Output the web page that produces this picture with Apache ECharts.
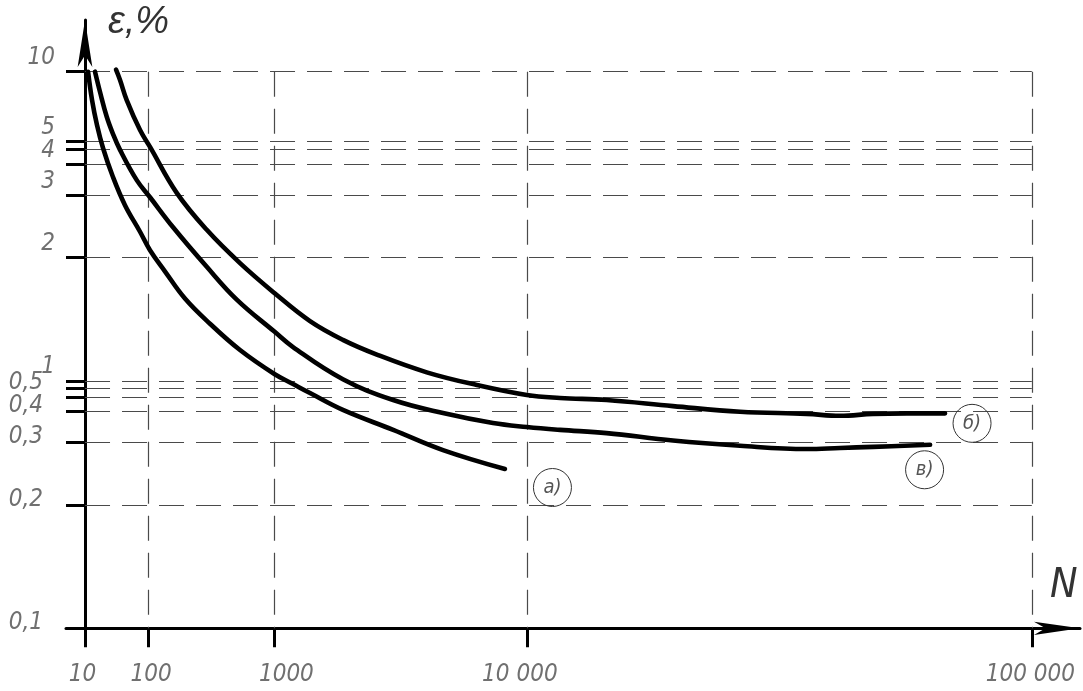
<!DOCTYPE html>
<html><head><meta charset="utf-8">
<script src="https://cdn.jsdelivr.net/npm/echarts@6/dist/echarts.min.js"></script>
<style>html,body{margin:0;padding:0;background:#fff}#c{width:1083px;height:691px}</style>
</head><body><div id="c"></div>
<script>
// ---- tick labels ----
const xTickValues = [10, 100, 1000, 10000, 100000];
const xTickLabels = ['10', '100', '1000', '10 000', '100 000'];
const yTickValues = [0.1, 0.2, 0.3, 0.4, 0.5, 1, 2, 3, 4, 5, 10];
const yTickLabels = ['0,1', '0,2', '0,3', '0,4', '0,5', '1', '2', '3', '4', '5', '10'];
// hand-drawn ε scale of the original figure (levels in "drawing decades")
const yTickLevels = [0, 0.4420, 0.6669, 0.7783, 0.8624, 0.8886, 1.3317, 1.5544, 1.6673, 1.7485, 2.0];
// unlabeled extra grid lines of the drawing
const yExtraGrid = [0.46, 4.65];

// ---- curves: N (cycles) and ε (%) ----
const curveA_N   = [11.7, 14.2, 17.8, 23.0, 33.8, 51.0, 80.2, 105, 152, 234, 376, 615, 1000, 1267, 1550, 2220, 3600, 5470, 8630];
const curveA_eps = [10, 7.55, 5.90, 4.70, 3.56, 2.82, 2.37, 2.10, 1.85, 1.59, 1.38, 1.19, 1.04, 0.752, 0.478, 0.407, 0.338, 0.286, 0.253];

const curveV_N   = [16.3, 20.3, 26.7, 33.8, 43.3, 73.0, 105, 182, 355, 585, 1000, 1267, 2220, 3600, 5470, 7940, 10000, 12350, 16280, 23260, 32220, 43270, 49680, 56650, 70280];
const curveV_eps = [10, 8.18, 6.40, 5.40, 4.61, 3.46, 2.97, 2.44, 1.90, 1.58, 1.32, 1.21, 1.01, 0.447, 0.395, 0.360, 0.347, 0.338, 0.328, 0.306, 0.294, 0.288, 0.290, 0.292, 0.296];

const curveB_N   = [37.7, 43.3, 53.9, 80.2, 105, 197, 355, 615, 1000, 1550, 2220, 3100, 4800, 7070, 10000, 12350, 16280, 23260, 32220, 43270, 49680, 56650, 64460, 74200];
const curveB_eps = [10.2, 9.21, 7.55, 5.61, 4.75, 3.08, 2.40, 1.94, 1.64, 1.40, 1.26, 1.16, 1.05, 0.684, 0.469, 0.456, 0.447, 0.422, 0.400, 0.392, 0.385, 0.392, 0.394, 0.394];

const curveLabels = ['а)', 'б)', 'в)'];

// ---- scales of the drawing ----
const LOG2 = Math.log10(2);
function xPos(N) { return Math.pow(N, LOG2); } // each decade drawn twice as long as the previous one
function yPos(e) {
  const le = Math.log10(e);
  let i = 0;
  while (i < yTickValues.length - 2 && e > yTickValues[i + 1]) i++;
  const l0 = Math.log10(yTickValues[i]), l1 = Math.log10(yTickValues[i + 1]);
  const t = (le - l0) / (l1 - l0);
  return yTickLevels[i] + t * (yTickLevels[i + 1] - yTickLevels[i]);
}
function pts(Ns, es) { return Ns.map((n, i) => [xPos(n), yPos(es[i])]); }

const FONT = "'DejaVu Sans Condensed', 'Liberation Sans Narrow', 'Liberation Sans', sans-serif";
const LBL = '#707070';
const FS = 24;

const gridLines = [];
yTickValues.slice(1).concat(yExtraGrid).forEach(e => {
  gridLines.push([{ coord: [xPos(xTickValues[0]), yPos(e)] }, { coord: [xPos(xTickValues[xTickValues.length - 1]), yPos(e)] }]);
});
xTickValues.slice(1).forEach(n => {
  gridLines.push([{ coord: [xPos(n), yPos(10)] }, { coord: [xPos(n), yPos(0.1)] }]);
});

function curveSeries(name, data, label, offset) {
  const last = data[data.length - 1];
  return {
    name, type: 'line', data, z: 10, silent: true,
    showSymbol: false, smooth: 0.4,
    lineStyle: { color: '#000', width: 4.6, cap: 'round', join: 'round' },
    markPoint: {
      silent: true, animation: false,
      symbol: 'circle', symbolSize: 38,
      itemStyle: { color: 'rgba(0,0,0,0)', borderColor: '#333', borderWidth: 1 },
      label: { show: true, position: 'inside', formatter: label, fontFamily: FONT, fontStyle: 'italic', fontSize: 20, color: '#555' },
      data: [{ coord: last, symbolOffset: offset }]
    }
  };
}

const lblStyle = { fontFamily: FONT, fontStyle: 'italic', fontSize: FS, lineHeight: FS, color: LBL };
const rs = pad => Object.assign({}, lblStyle, { padding: pad });

const option = {
  animation: false,
  backgroundColor: '#fff',
  grid: { left: 66, right: 3, top: 20, bottom: 62.7, containLabel: false, outerBoundsMode: 'none' },
  xAxis: {
    type: 'value', min: 1.3973, max: 33.527,
    axisLine: { onZero: false, lineStyle: { color: '#000', width: 3 }, symbol: ['none', 'arrow'], symbolSize: [10, 46] },
    axisTick: { show: true, length: 19, customValues: xTickValues.map(xPos), lineStyle: { color: '#000', width: 3 } },
    splitLine: { show: false },
    axisLabel: {
      show: true, margin: 34, customValues: xTickValues.map(xPos),
      fontFamily: FONT, fontStyle: 'italic', fontSize: FS, lineHeight: FS, color: LBL,
      formatter: v => {
        const i = xTickValues.findIndex(n => Math.abs(xPos(n) - v) < 1e-6);
        return i < 0 ? '' : '{x' + i + '|' + xTickLabels[i] + '}';
      },
      rich: {
        x0: rs([0, 5, 0, 0]),
        x1: rs([0, 0, 0, 6]),
        x2: rs([0, 0, 0, 24]),
        x3: rs([0, 14, 0, 0]),
        x4: rs([0, 3, 0, 0])
      }
    }
  },
  yAxis: {
    type: 'value', min: 0, max: 2.1858, offset: -19,
    axisLine: { onZero: false, lineStyle: { color: '#000', width: 3 }, symbol: ['none', 'arrow'], symbolSize: [11, 47] },
    axisTick: { show: true, length: 19, customValues: yTickValues.concat(yExtraGrid).map(yPos), lineStyle: { color: '#000', width: 3 } },
    splitLine: { show: false },
    axisLabel: {
      show: true, margin: 30, customValues: yTickValues.map(yPos), verticalAlign: 'middle',
      fontFamily: FONT, fontStyle: 'italic', fontSize: FS, lineHeight: FS, color: LBL,
      formatter: v => {
        const i = yTickLevels.findIndex(l => Math.abs(l - v) < 1e-6);
        if (i < 0) return '';
        const s = yTickLabels[i];
        return (s.indexOf(',') >= 0 ? '{d|' : '{i|') + s + '}';
      },
      rich: {
        i: rs([0, 0, 28, 0]),
        d: rs([0, 12, 12, 0])
      }
    }
  },
  graphic: [
    { type: 'text', left: 108, top: 3, silent: true, style: { text: 'ε,%', fontFamily: "'Liberation Sans', sans-serif", fontStyle: 'italic', fontSize: 38, fill: '#333' } },
    { type: 'text', left: 1050, top: 566, silent: true, style: { text: 'N', fontFamily: FONT, fontStyle: 'italic', fontSize: 41, fill: '#333' } }
  ],
  series: [
    {
      name: 'grid', type: 'line', data: [], silent: true, z: 1,
      markLine: {
        silent: true, animation: false, symbol: ['none', 'none'], z: 1,
        label: { show: false },
        lineStyle: { type: [25, 12], color: '#4a4a4a', width: 1.2 },
        emphasis: { disabled: true },
        data: gridLines
      }
    },
    curveSeries('a', pts(curveA_N, curveA_eps), curveLabels[0], [47.5, 18.5]),
    curveSeries('b', pts(curveB_N, curveB_eps), curveLabels[1], [27, 10]),
    curveSeries('v', pts(curveV_N, curveV_eps), curveLabels[2], [-5.5, 25])
  ]
};

const chart = echarts.init(document.getElementById('c'), null, { renderer: 'canvas' });
chart.setOption(option);
</script>
</body></html>
